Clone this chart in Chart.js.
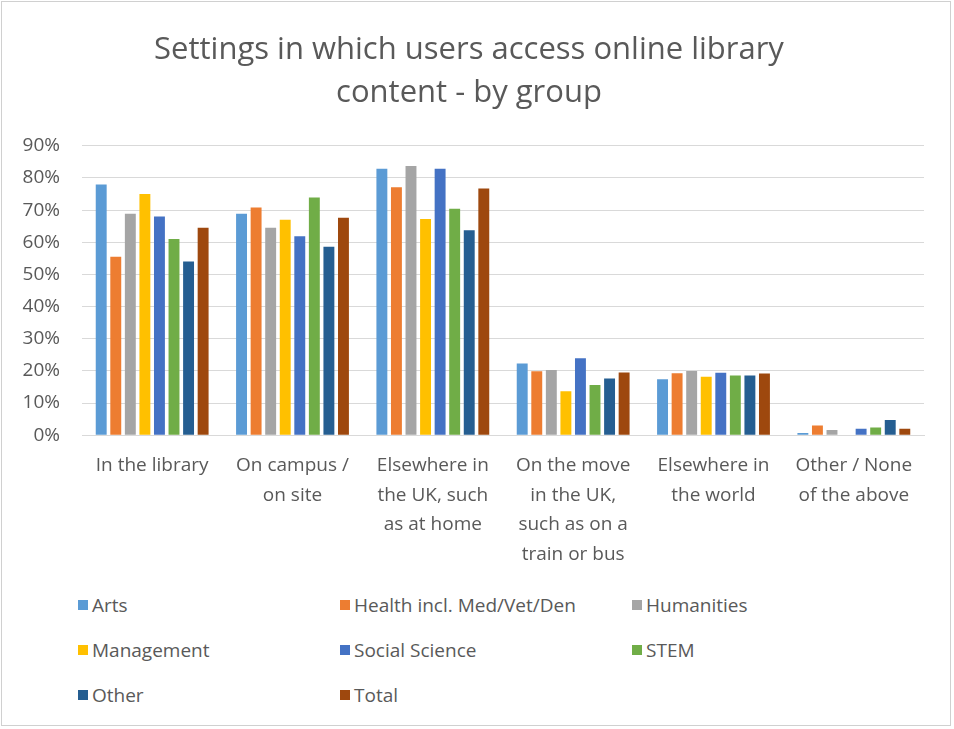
<!DOCTYPE html>
<html>
<head>
<meta charset="utf-8">
<script src="https://cdn.jsdelivr.net/npm/chart.js@4"></script>
<style>
  body { margin: 0; background: #fff; font-family: "Open Sans", sans-serif; }
  #frame { position: absolute; left: 1px; top: 1px; width: 950px; height: 725px; border: 1px solid #d0d0d0; box-sizing: border-box; }
  #wrap { position: absolute; left: 0; top: 0; width: 954px; height: 577px; }
  #legend { position: absolute; left: 78px; top: 593px; display: grid; grid-template-columns: 262px 292px 250px; row-gap: 22px; }
  .item { display: flex; align-items: center; font-size: 19px; color: #595959; height: 23px; white-space: nowrap; }
  .box { width: 10px; height: 10px; margin-right: 4px; }
</style>
</head>
<body>
<div id="frame"></div>
<div id="wrap"><canvas id="chart"></canvas></div>
<div id="legend"></div>
<script>
// categories (x axis)
const categories = [
    ["In the library"],
    ["On campus /", "on site"],
    ["Elsewhere in", "the UK, such", "as at home"],
    ["On the move", "in the UK,", "such as on a", "train or bus"],
    ["Elsewhere in", "the world"],
    ["Other / None", "of the above"]
];

// series values, percent
const arts = [78.0, 68.9, 82.9, 22.3, 17.4, 0.7];
const health = [55.5, 70.8, 77.1, 19.9, 19.3, 3.0];
const humanities = [68.9, 64.5, 83.7, 20.3, 20.0, 1.6];
const management = [75.0, 67.0, 67.2, 13.7, 18.2, 0];
const socialScience = [68.0, 61.9, 82.9, 23.9, 19.4, 2.0];
const stem = [61.0, 73.9, 70.4, 15.6, 18.6, 2.4];
const other = [54.0, 58.6, 63.7, 17.6, 18.6, 4.7];
const total = [64.5, 67.6, 76.7, 19.5, 19.2, 2.0];

const seriesNames = ["Arts", "Health incl. Med/Vet/Den", "Humanities", "Management",
    "Social Science", "STEM", "Other", "Total"];
const seriesColors = ["#5B9BD5", "#ED7D31", "#A5A5A5", "#FFC000",
    "#4472C4", "#70AD47", "#255E91", "#9E480E"];
const seriesData = [arts, health, humanities, management, socialScience, stem, other, total];

const yTicks = [0, 10, 20, 30, 40, 50, 60, 70, 80, 90];

const fontFamily = '"Open Sans", sans-serif';
const textColor = "#595959";

const ctx = document.getElementById("chart").getContext("2d");
new Chart(ctx, {
    type: "bar",
    data: {
        labels: categories,
        datasets: seriesNames.map((name, i) => ({
            label: name,
            data: seriesData[i],
            backgroundColor: seriesColors[i],
            barPercentage: 0.75,
            categoryPercentage: 0.83
        }))
    },
    options: {
        responsive: true,
        maintainAspectRatio: false,
        animation: false,
        layout: { padding: { left: 14, right: 30, top: 0, bottom: 0 } },
        plugins: {
            legend: { display: false },
            tooltip: { enabled: false },
            title: {
                display: true,
                text: ["Settings in which users access online library", "content - by group"],
                color: textColor,
                font: { family: fontFamily, size: 31, weight: "normal", lineHeight: 1.4 },
                padding: { top: 28, bottom: 31 }
            }
        },
        scales: {
            y: {
                min: 0,
                max: 90,
                afterBuildTicks: axis => { axis.ticks = yTicks.map(v => ({ value: v })); },
                afterFit: axis => { axis.width = 68; },
                ticks: {
                    callback: v => v + "%",
                    color: textColor,
                    font: { family: fontFamily, size: 19 },
                    padding: 22
                },
                grid: { color: "#D9D9D9", drawTicks: false },
                border: { display: false }
            },
            x: {
                ticks: {
                    color: textColor,
                    font: { family: fontFamily, size: 19, lineHeight: 1.55 },
                    maxRotation: 0,
                    autoSkip: false,
                    padding: 8
                },
                grid: { display: false },
                border: { color: "#D9D9D9" }
            }
        }
    }
});

// legend laid out in three columns like the reference
const legend = document.getElementById("legend");
seriesNames.forEach((name, i) => {
    const item = document.createElement("div");
    item.className = "item";
    const box = document.createElement("span");
    box.className = "box";
    box.style.background = seriesColors[i];
    item.appendChild(box);
    item.appendChild(document.createTextNode(name));
    legend.appendChild(item);
});
</script>
</body>
</html>
